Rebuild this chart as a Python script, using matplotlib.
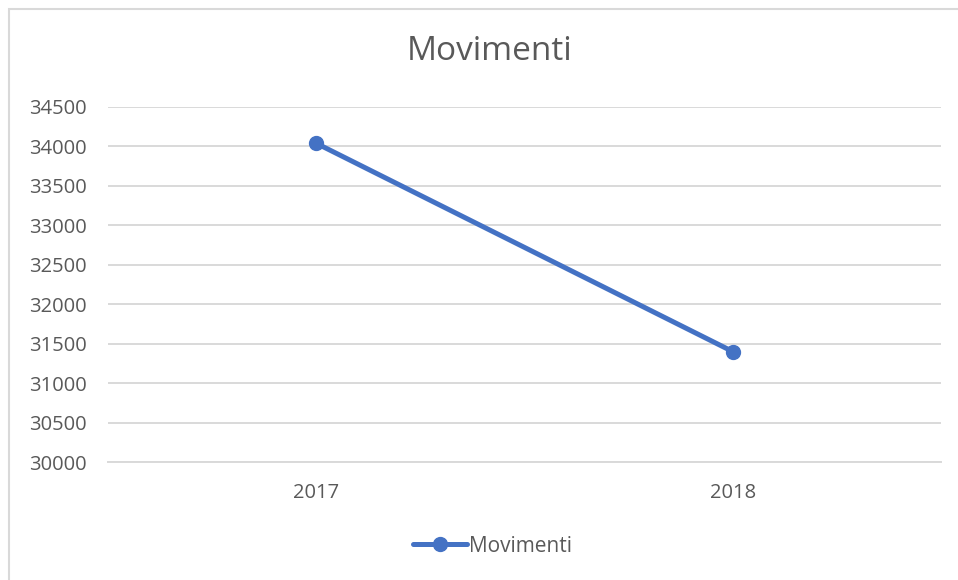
import matplotlib.pyplot as plt
from matplotlib.patches import Rectangle

plt.rcParams['font.family'] = ['Open Sans', 'DejaVu Sans']

# chart data
years = ['2017', '2018']
movimenti = [34040, 31400]
y_ticks = [30000, 30500, 31000, 31500, 32000, 32500, 33000, 33500, 34000, 34500]

LINE_COLOR = '#4472C4'
TEXT_COLOR = '#595959'
GRID_COLOR = '#D9D9D9'

fig = plt.figure(figsize=(9.58, 5.80), dpi=100)

# outer chart frame (left/top edges visible, rest cropped)
frame = Rectangle((9 / 958, -0.1), 1.2, 1 - 9 / 580 + 0.1, transform=fig.transFigure,
                  fill=False, edgecolor='#D9D9D9', linewidth=1.5)
fig.patches.append(frame)

ax = fig.add_axes([108 / 958, 1 - 462 / 580, (941 - 108) / 958, (462 - 107) / 580])

x = list(range(len(years)))
ax.plot(x, movimenti, color=LINE_COLOR, linewidth=3.6, marker='o', markersize=10,
        solid_capstyle='round', label='Movimenti', zorder=3)

ax.set_xlim(-0.5, len(years) - 0.5)
ax.set_ylim(y_ticks[0], y_ticks[-1])
ax.set_yticks(y_ticks)
ax.set_xticks(x)
ax.set_xticklabels(years)

ax.grid(axis='y', color=GRID_COLOR, linewidth=1.4)
ax.set_axisbelow(True)
for side in ['top', 'right', 'left']:
    ax.spines[side].set_visible(False)
ax.spines['bottom'].set_color(GRID_COLOR)
ax.spines['bottom'].set_linewidth(1.4)
ax.tick_params(axis='both', length=0, labelsize=14.5, labelcolor=TEXT_COLOR)
ax.tick_params(axis='y', pad=15)
ax.tick_params(axis='x', pad=15)

fig.text(0.511, 1 - 52 / 580, 'Movimenti', ha='center', va='center',
         fontsize=24, color=TEXT_COLOR)

fig.legend(loc='center', bbox_to_anchor=(0.514, 1 - 546 / 580), frameon=False,
           fontsize=15, labelcolor=TEXT_COLOR, handlelength=2.6, handletextpad=0.1)

fig.savefig('out.png', dpi=100, facecolor='white')
